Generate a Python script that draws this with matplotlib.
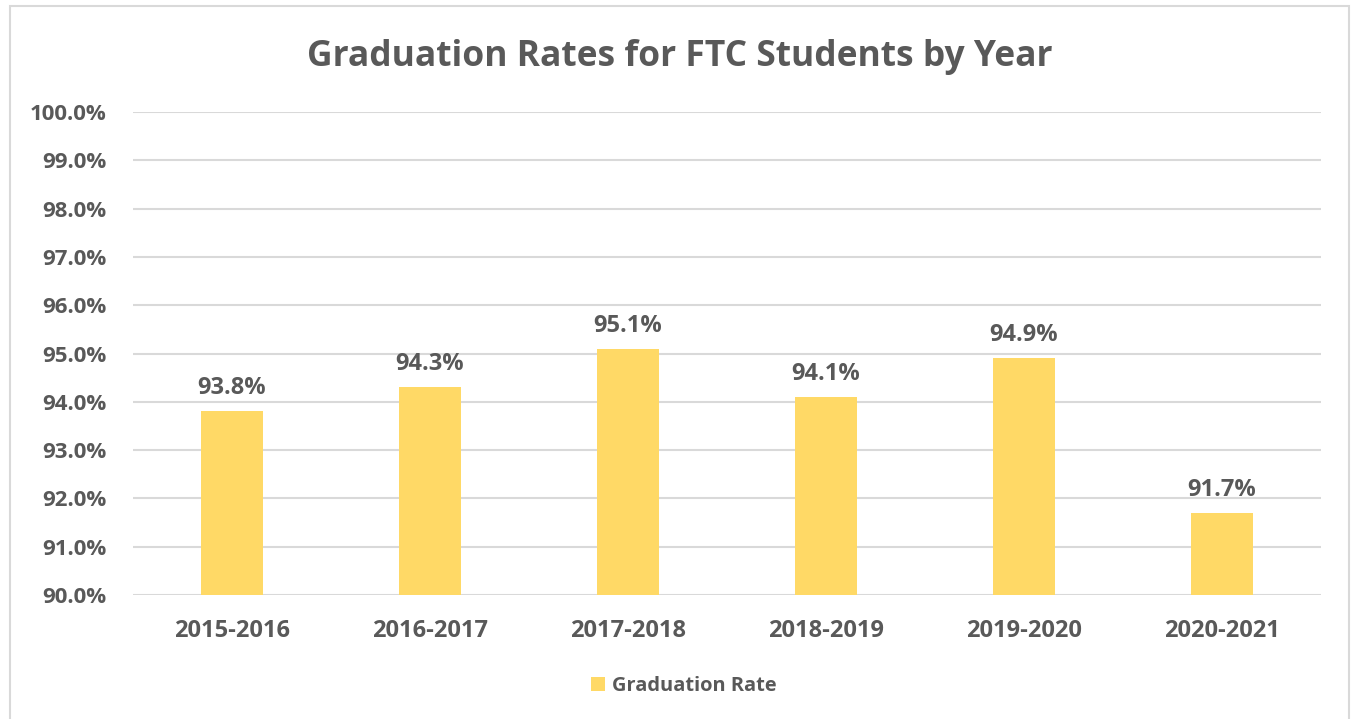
import matplotlib
matplotlib.use("Agg")
import matplotlib.pyplot as plt
from matplotlib.patches import Rectangle

years = ["2015-2016", "2016-2017", "2017-2018", "2018-2019", "2019-2020", "2020-2021"]
rates = [93.8, 94.3, 95.1, 94.1, 94.9, 91.7]
yticks = [90, 91, 92, 93, 94, 95, 96, 97, 98, 99, 100]

TXT = "#595959"
GRID = "#d9d9d9"
BAR = "#FFD966"
plt.rcParams['font.family'] = ['Open Sans', 'DejaVu Sans']

fig = plt.figure(figsize=(13.51, 7.19), dpi=100)
fig.patches.append(Rectangle((10/1351, -0.05), 1339/1351, 1.05 - 6/719, transform=fig.transFigure,
                             fill=False, edgecolor=GRID, linewidth=1.5))
ax = fig.add_axes([133/1351, 1 - 595/719, 1188/1351, (595 - 112)/719])

x = list(range(len(years)))
bars = ax.bar(x, rates, width=0.31, color=BAR, zorder=3, label="Graduation Rate")
for xi, v in zip(x, rates):
    ax.annotate(f"{v:.1f}%", (xi, v), xytext=(0, 8), textcoords="offset points",
                ha="center", va="bottom", fontsize=17, fontweight="bold", color=TXT)

ax.set_ylim(90, 100)
ax.set_xlim(-0.5, len(years) - 0.5)
ax.set_yticks(yticks)
ax.set_yticklabels([f"{t:.1f}%" for t in yticks])
ax.set_xticks(x)
ax.set_xticklabels(years)
ax.tick_params(axis="both", length=0, labelcolor=TXT)
ax.tick_params(axis="y", pad=19, labelsize=16)
ax.tick_params(axis="x", pad=17, labelsize=17)
for lab in ax.get_xticklabels() + ax.get_yticklabels():
    lab.set_fontweight("bold")
ax.grid(axis="y", color=GRID, linewidth=1.5, zorder=0)
for s in ax.spines.values():
    s.set_visible(False)

fig.text(680/1351, 1 - 57/719, "Graduation Rates for FTC Students by Year", ha="center", va="center",
         fontsize=25.5, fontweight="bold", color=TXT)

leg = fig.legend(handles=[bars], labels=["Graduation Rate"], loc="center", bbox_to_anchor=(684/1351, 1 - 686/719),
                 frameon=False, fontsize=14.4, handlelength=0.7, handleheight=0.7, handletextpad=0.35)
for t in leg.get_texts():
    t.set_color(TXT)
    t.set_fontweight("bold")

fig.savefig("out.png", dpi=100)
